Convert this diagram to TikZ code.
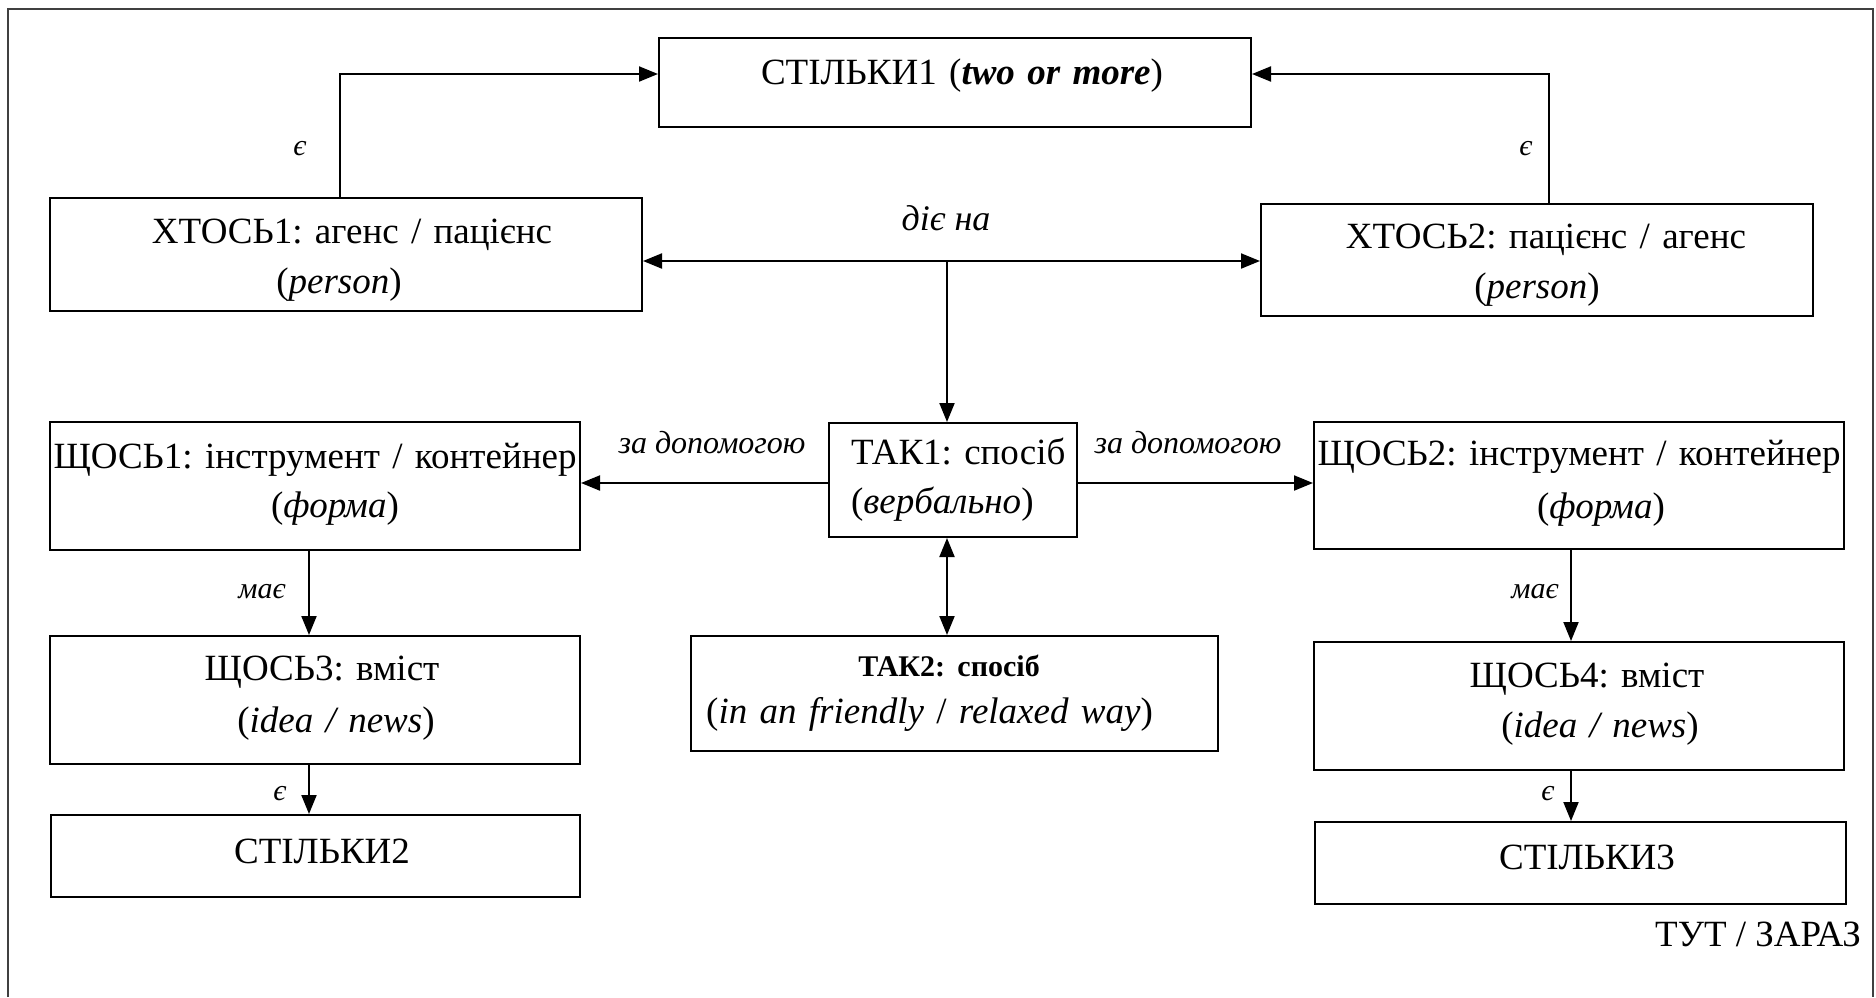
\documentclass[tikz,border=0pt]{standalone}
\usepackage{fontspec}
\setmainfont{Liberation Serif}
\usetikzlibrary{arrows.meta}
\frenchspacing
\begin{document}
\begin{tikzpicture}[x=1pt,y=-1pt,
  box/.style={draw, line width=2pt, inner sep=0pt, anchor=north west,
    align=center, font=\fontsize{37}{47}\selectfont},
  lbl/.style={font=\fontsize{30}{36}\selectfont\itshape, anchor=base, inner sep=0pt},
  arr/.style={line width=2pt, -{Triangle[length=19pt,width=15pt]}},
  arrs/.style={line width=2pt, {Triangle[length=19pt,width=15pt]}-{Triangle[length=19pt,width=15pt]}},
]
\useasboundingbox (0,0) rectangle (1876,997);
% outer frame (open at the bottom)
\draw[line width=1.5pt, black!75] (8,997) -- (8,9) -- (1873,9) -- (1873,997);

% boxes
\node[box, text width=592pt, text height=46pt, text depth=43pt] (s1) at (658,37)
  {\hspace*{14pt}СТІЛЬКИ1 (\textbf{\textit{two or more}})};
\node[box, text width=592pt, text height=45pt, text depth=68pt, font=\fontsize{37}{50}\selectfont] (x1) at (49,197)
  {\hspace*{12pt}ХТОСЬ1: агенс / пацієнс\\\hspace*{-14pt}(\textit{person})};
\node[box, text width=552pt, text height=44pt, text depth=68pt, font=\fontsize{37}{50}\selectfont] (x2) at (1260,203)
  {\hspace*{18pt}ХТОСЬ2: пацієнс / агенс\\(\textit{person})};
\node[box, align=left, text width=248pt, text height=41pt, text depth=73pt, font=\fontsize{37}{49}\selectfont] (t1) at (828,422)
  {\hspace*{22pt}ТАК1: спосіб\\\hspace*{22pt}(\textit{вербально})};
\node[box, text width=527pt, text height=40pt, text depth=75pt] (t2) at (690,635)
  {\hspace*{-11pt}{\fontsize{30}{30}\selectfont\bfseries ТАК2: спосіб}\\\hspace*{-50pt}(\textit{in an friendly} / \textit{relaxed way})};
\node[box, text width=530pt, text height=46pt, text depth=82pt, font=\fontsize{37}{49}\selectfont] (q1) at (49,421)
  {ЩОСЬ1: інструмент / контейнер\\\hspace*{40pt}(\textit{форма})};
\node[box, text width=530pt, text height=44pt, text depth=84pt, font=\fontsize{37}{52}\selectfont] (q3) at (49,635)
  {\hspace*{14pt}ЩОСЬ3: вміст\\\hspace*{42pt}(\textit{idea / news})};
\node[box, text width=529pt, text height=48pt, text depth=34pt] (s2) at (50,814)
  {\hspace*{13pt}СТІЛЬКИ2};
\node[box, text width=530pt, text height=43pt, text depth=84pt, font=\fontsize{37}{53}\selectfont] (q2) at (1313,421)
  {ЩОСЬ2: інструмент / контейнер\\\hspace*{44pt}(\textit{форма})};
\node[box, text width=530pt, text height=45pt, text depth=83pt, font=\fontsize{37}{50}\selectfont] (q4) at (1313,641)
  {\hspace*{16pt}ЩОСЬ4: вміст\\\hspace*{42pt}(\textit{idea / news})};
\node[box, text width=531pt, text height=47pt, text depth=35pt] (s3) at (1314,821)
  {\hspace*{13pt}СТІЛЬКИ3};

\node[anchor=base east, inner sep=0pt, font=\fontsize{37}{44}\selectfont] (here) at (1861,946) {ТУТ / ЗАРАЗ};

% bend points and shared lines of the connectors
\coordinate (c1) at (340,74);
\coordinate (c2) at (1549,74);
\coordinate (j) at (947,261);
\coordinate (h) at (947,483);
\coordinate (m1) at (309,0);
\coordinate (m2) at (1571,0);

% connectors
\draw[arr] (x1.north -| c1) |- (s1.west |- c1);
\draw[arr] (x2.north -| c2) |- (s1.east |- c2);
\draw[arrs] (x1.east |- j) -- (x2.west |- j);
\draw[arr] (j) -- (t1.north -| j);
\draw[arr] (t1.west |- h) -- (q1.east |- h);
\draw[arr] (t1.east |- h) -- (q2.west |- h);
\draw[arrs] (t2.north -| j) -- (t1.south -| j);
\draw[arr] (q1.south -| m1) -- (q3.north -| m1);
\draw[arr] (q3.south -| m1) -- (s2.north -| m1);
\draw[arr] (q2.south -| m2) -- (q4.north -| m2);
\draw[arr] (q4.south -| m2) -- (s3.north -| m2);

% connector labels
\node[lbl] (e1) at (300,155) {є};
\node[lbl] (e2) at (1526,155) {є};
\node[lbl, font=\fontsize{36}{40}\selectfont\itshape] (act) at (946,230) {діє на};
\node[lbl, font=\fontsize{32}{38}\selectfont\itshape] (via1) at (712,453) {за допомогою};
\node[lbl, font=\fontsize{32}{38}\selectfont\itshape] (via2) at (1188,453) {за допомогою};
\node[lbl] (has1) at (262,598) {має};
\node[lbl] (e3) at (280,800) {є};
\node[lbl] (has2) at (1535,598) {має};
\node[lbl] (e4) at (1548,800) {є};
\end{tikzpicture}
\end{document}
